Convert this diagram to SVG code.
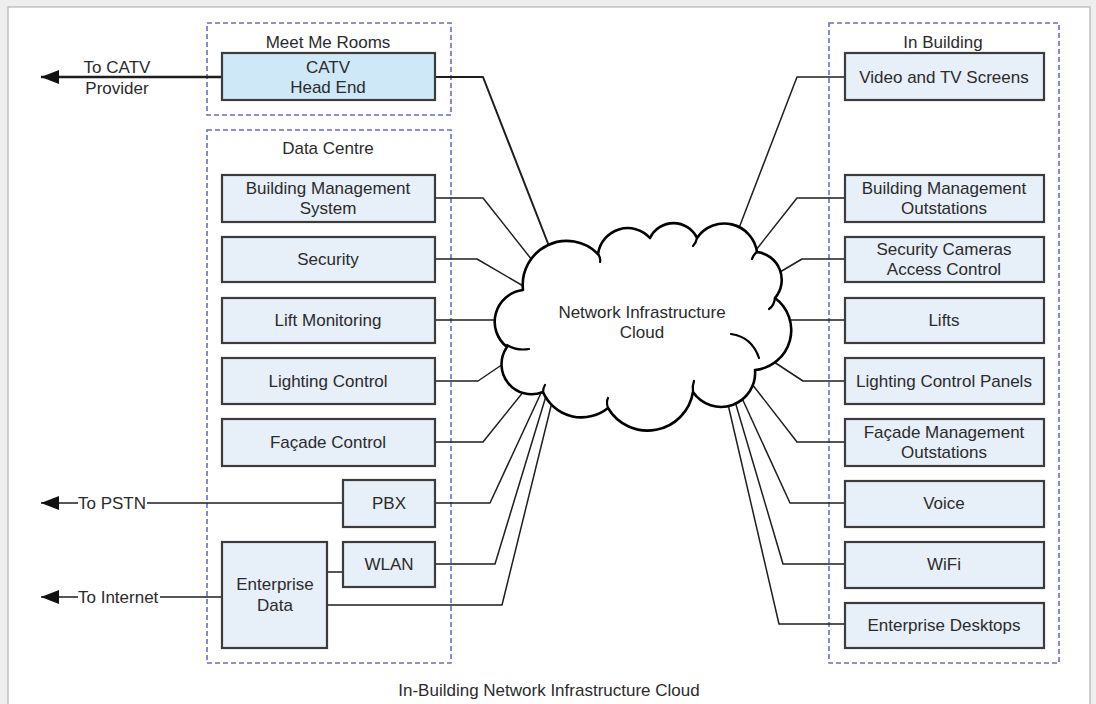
<svg xmlns="http://www.w3.org/2000/svg" width="1096" height="704" viewBox="0 0 1096 704">
<style>
.t{font-family:"Liberation Sans",Arial,sans-serif;font-size:17px;fill:#2b2b2b;text-anchor:middle}
.tl{font-family:"Liberation Sans",Arial,sans-serif;font-size:17px;fill:#2b2b2b;text-anchor:start}
.box{fill:#e7eff9;stroke:#3c3c3c;stroke-width:2.2}
.hb{fill:#cfe8f8;stroke:#3c3c3c;stroke-width:2.2}
.grp{fill:none;stroke:#6a6ad2;stroke-width:1.6;stroke-dasharray:5 3}
.c{fill:none;stroke:#1e1e1e;stroke-width:1.5;stroke-linejoin:round}
.ext{fill:none;stroke:#1e1e1e;stroke-width:1.6}
.cl{fill:#fff;stroke:#000;stroke-width:2.6;stroke-linejoin:round}
.curl{fill:none;stroke:#000;stroke-width:2.2;stroke-linecap:round}
</style>
<defs>
<marker id="ah" markerUnits="userSpaceOnUse" markerWidth="20" markerHeight="16" refX="18" refY="7" orient="auto" viewBox="0 0 20 14">
<path d="M0,0 L18,7 L0,14 z" fill="#111"/>
</marker>
</defs>
<rect x="0" y="0" width="1096" height="704" fill="#eeeeee"/>
<rect x="8" y="7" width="1082" height="712" fill="#ffffff" stroke="#b5b5b5" stroke-width="1.2"/>

<g id="groups">
<rect class="grp" x="207" y="23" width="244" height="92"/>
<text class="t" x="328" y="48">Meet Me Rooms</text>
<rect class="grp" x="207" y="130" width="244" height="533"/>
<text class="t" x="328" y="154">Data Centre</text>
<rect class="grp" x="829" y="23" width="230" height="640"/>
<text class="t" x="943" y="48">In Building</text>
</g>

<g id="connectors">
<polyline class="ext" style="stroke-width:2.4" points="222,77 41,77" marker-end="url(#ah)"/>
<polyline class="ext" points="78,503 41,503" marker-end="url(#ah)"/>
<polyline class="ext" points="147,503 343,503"/>
<polyline class="ext" points="78,597 41,597" marker-end="url(#ah)"/>
<polyline class="ext" points="160,597 222,597"/>
<polyline class="c" points="327,572 343,572"/>

<polyline class="c" style="stroke-width:2" points="435,77 483,77 549,246"/>
<polyline class="c" points="435,198 483,198 532,260"/>
<polyline class="c" points="435,259 477,259 525,287"/>
<polyline class="c" points="435,320 498,320"/>
<polyline class="c" points="435,381 478,381 506,362"/>
<polyline class="c" points="435,442 483,442 524,391"/>
<polyline class="c" points="435,503 490,503 541,393"/>
<polyline class="c" points="435,564 495,564 546,396"/>
<polyline class="c" points="327,605 502,605 553,398"/>

<polyline class="c" points="845,77 797,77 739,228"/>
<polyline class="c" points="845,198 797,198 756,250"/>
<polyline class="c" points="845,259 802,259 780,272"/>
<polyline class="c" points="845,320 788,320"/>
<polyline class="c" points="845,381 803,381 774,362"/>
<polyline class="c" points="845,442 797,442 752,384"/>
<polyline class="c" points="845,503 790,503 741,396"/>
<polyline class="c" points="845,564 783,564 734,398"/>
<polyline class="c" points="845,624 779,624 727,400"/>
</g>

<g id="ext-labels">
<text class="t" x="117" y="73">To CATV</text>
<text class="t" x="117" y="94">Provider</text>
<text class="tl" x="78" y="509">To PSTN</text>
<text class="tl" x="78" y="603">To Internet</text>
</g>

<g id="cloud">
<path class="cl" d="M523,290 A44,44 0 0 1 598,254 A30,30 0 0 1 650,238 A26,26 0 0 1 697,238 A33,33 0 0 1 757,252 A28,28 0 0 1 775,298 A40,40 0 0 1 755,370 A34,34 0 0 1 693,392 A46,46 0 0 1 608,408 A42,42 0 0 1 543,392 A30,30 0 0 1 507,347 A32,32 0 0 1 523,290 Z"/>
<path class="curl" d="M507,345 Q516,351 529,349"/>
<path class="curl" d="M731,334 Q752,337 759,358"/>
<path class="curl" d="M775,298 Q774,306 769,309"/>
<path class="curl" d="M598,254 Q601,258 600,262"/>
<path class="curl" d="M697,238 Q696,243 693,246"/>
<path class="curl" d="M757,252 Q753,255 752,259"/>
<path class="curl" d="M693,392 Q692,386 694,381"/>
<path class="curl" d="M608,408 Q606,402 608,398"/>
<path class="curl" d="M543,392 Q543,388 545,385"/>
<text class="t" x="642" y="318">Network Infrastructure</text>
<text class="t" x="642" y="338">Cloud</text>
</g>

<g id="catv">
<rect class="hb" x="222" y="53" width="213" height="47"/>
<text class="t" x="328" y="73">CATV</text>
<text class="t" x="328" y="93">Head End</text>
</g>
<g id="bms">
<rect class="box" x="222" y="175" width="213" height="47"/>
<text class="t" x="328" y="194">Building Management</text>
<text class="t" x="328" y="214">System</text>
</g>
<g id="security">
<rect class="box" x="222" y="237" width="213" height="45"/>
<text class="t" x="328" y="265">Security</text>
</g>
<g id="lift-monitoring">
<rect class="box" x="222" y="298" width="213" height="45"/>
<text class="t" x="328" y="326">Lift Monitoring</text>
</g>
<g id="lighting-control">
<rect class="box" x="222" y="358" width="213" height="46"/>
<text class="t" x="328" y="387">Lighting Control</text>
</g>
<g id="facade-control">
<rect class="box" x="222" y="419" width="213" height="47"/>
<text class="t" x="328" y="448">Façade Control</text>
</g>
<g id="pbx">
<rect class="box" x="343" y="480" width="92" height="47"/>
<text class="t" x="389" y="509">PBX</text>
</g>
<g id="wlan">
<rect class="box" x="343" y="542" width="92" height="45"/>
<text class="t" x="389" y="570">WLAN</text>
</g>
<g id="enterprise-data">
<rect class="box" x="222" y="542" width="105" height="106"/>
<text class="t" x="275" y="590">Enterprise</text>
<text class="t" x="275" y="611">Data</text>
</g>

<g id="video">
<rect class="box" x="845" y="53" width="199" height="47"/>
<text class="t" x="944" y="83">Video and TV Screens</text>
</g>
<g id="bm-outstations">
<rect class="box" x="845" y="175" width="199" height="47"/>
<text class="t" x="944" y="194">Building Management</text>
<text class="t" x="944" y="214">Outstations</text>
</g>
<g id="security-cameras">
<rect class="box" x="845" y="237" width="199" height="45"/>
<text class="t" x="944" y="255">Security Cameras</text>
<text class="t" x="944" y="275">Access Control</text>
</g>
<g id="lifts">
<rect class="box" x="845" y="298" width="199" height="45"/>
<text class="t" x="944" y="326">Lifts</text>
</g>
<g id="lighting-panels">
<rect class="box" x="845" y="358" width="199" height="46"/>
<text class="t" x="944" y="387">Lighting Control Panels</text>
</g>
<g id="facade-outstations">
<rect class="box" x="845" y="419" width="199" height="47"/>
<text class="t" x="944" y="438">Façade Management</text>
<text class="t" x="944" y="458">Outstations</text>
</g>
<g id="voice">
<rect class="box" x="845" y="481" width="199" height="46"/>
<text class="t" x="944" y="509">Voice</text>
</g>
<g id="wifi">
<rect class="box" x="845" y="542" width="199" height="46"/>
<text class="t" x="944" y="570">WiFi</text>
</g>
<g id="enterprise-desktops">
<rect class="box" x="845" y="603" width="199" height="45"/>
<text class="t" x="944" y="631">Enterprise Desktops</text>
</g>

<text class="t" x="549" y="696">In-Building Network Infrastructure Cloud</text>
</svg>
